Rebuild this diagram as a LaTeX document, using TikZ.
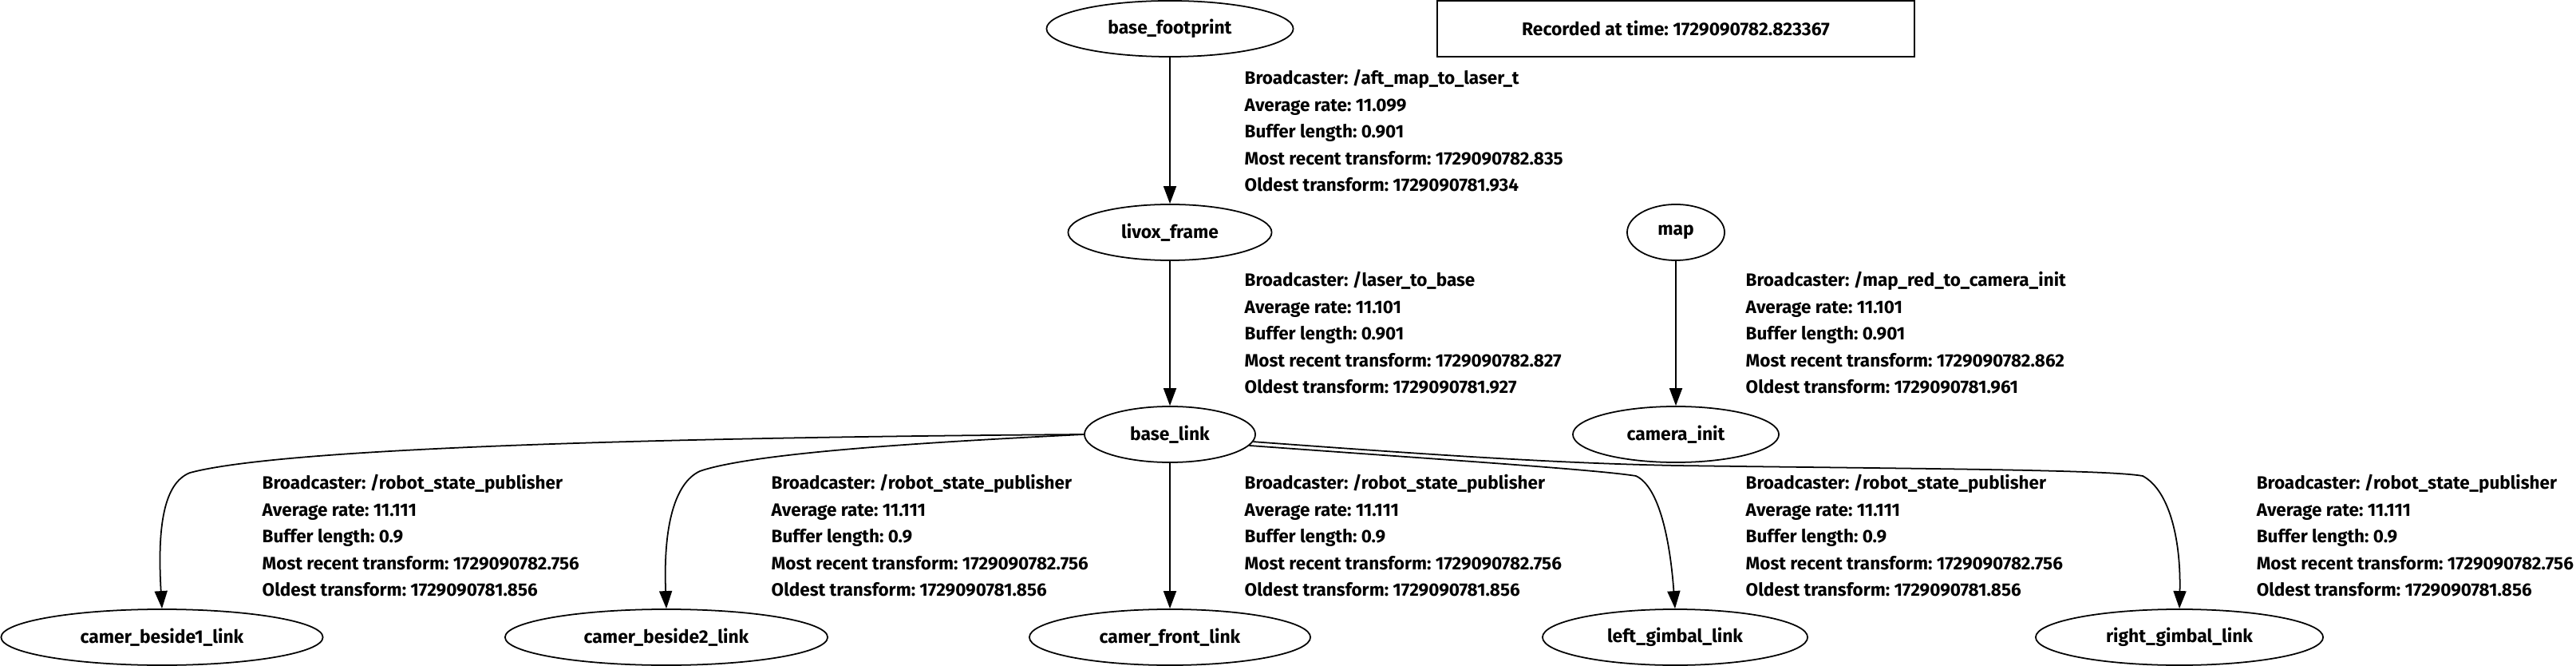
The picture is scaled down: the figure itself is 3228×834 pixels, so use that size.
\documentclass[tikz,border=0pt]{standalone}
\usepackage{fontspec}
\setmainfont{Fira Sans}
\usepackage{tikz}
\usetikzlibrary{shapes.geometric,arrows.meta}
\frenchspacing

\tikzset{
  frame/.style={draw,ellipse,line width=0.5pt,inner sep=0pt,minimum height=0.7cm,font=\bfseries\fontsize{6.5}{8}\selectfont},
  stamp/.style={draw,rectangle,line width=0.6pt,inner sep=0pt,minimum height=0.7cm,font=\bfseries\fontsize{6.5}{8}\selectfont},
  tfinfo/.style={anchor=west,align=left,inner sep=0pt,font=\bfseries\fontsize{6.4}{9.53}\selectfont},
  tfedge/.style={line width=0.5pt,-{Triangle[length=0.22cm,width=0.16cm]}}
}

\begin{document}
\begin{tikzpicture}[x=0.01cm,y=-0.01cm]
\useasboundingbox (0,0) rectangle (3228,834);

\node[frame,minimum width=3.09cm] (fp) at (1466,36) {base\_footprint};
\node[stamp,minimum width=5.97cm] (rec) at (2100,36) {Recorded at time: 1729090782.823367};
\node[frame,minimum width=2.55cm] (lv) at (1466,291) {livox\_frame};
\node[frame,minimum width=1.22cm] (map) at (2100,291) {map};
\node[frame,minimum width=2.14cm] (bl) at (1466,544) {base\_link};
\node[frame,minimum width=2.58cm] (ci) at (2100,544) {camera\_init};
\node[frame,minimum width=4.03cm] (b1) at (203,798) {camer\_beside1\_link};
\node[frame,minimum width=4.04cm] (b2) at (835,798) {camer\_beside2\_link};
\node[frame,minimum width=3.52cm] (fr) at (1466,798) {camer\_front\_link};
\node[frame,minimum width=3.32cm] (lg) at (2099,798) {left\_gimbal\_link};
\node[frame,minimum width=3.60cm] (rg) at (2731,798) {right\_gimbal\_link};

\draw[tfedge] (fp) -- (lv);
\draw[tfedge] (lv) -- (bl);
\draw[tfedge] (map) -- (ci);
\draw[tfedge] (bl) -- (fr);
\draw[tfedge] (bl.west) .. controls (800,548) and (350,562) .. (238,592)
  .. controls (205,605) and (197,660) .. (b1.north);
\draw[tfedge] (bl.west) .. controls (1200,552) and (950,565) .. (877,590)
  .. controls (845,605) and (831,660) .. (b2.north);
\draw[tfedge] (bl.-8) .. controls (1800,575) and (2000,588) .. (2050,596)
  .. controls (2080,610) and (2093,680) .. (lg.north);
\draw[tfedge] (bl.-5) .. controls (1800,570) and (1950,580) .. (2100,583)
  .. controls (2400,587) and (2640,588) .. (2685,596)
  .. controls (2720,615) and (2733,680) .. (rg.north);

\node[tfinfo] (i1) at (1559,164) {Broadcaster: /aft\_map\_to\_laser\_t\\Average rate: 11.099\\Buffer length: 0.901\\Most recent transform: 1729090782.835\\Oldest transform: 1729090781.934};
\node[tfinfo] (i2) at (1559,417) {Broadcaster: /laser\_to\_base\\Average rate: 11.101\\Buffer length: 0.901\\Most recent transform: 1729090782.827\\Oldest transform: 1729090781.927};
\node[tfinfo] (i3) at (2187,417) {Broadcaster: /map\_red\_to\_camera\_init\\Average rate: 11.101\\Buffer length: 0.901\\Most recent transform: 1729090782.862\\Oldest transform: 1729090781.961};
\foreach \n/\x in {i4/328,i5/966,i6/1559,i7/2187,i8/2827}
  \node[tfinfo] (\n) at (\x,671) {Broadcaster: /robot\_state\_publisher\\Average rate: 11.111\\Buffer length: 0.9\\Most recent transform: 1729090782.756\\Oldest transform: 1729090781.856};
\end{tikzpicture}
\end{document}
